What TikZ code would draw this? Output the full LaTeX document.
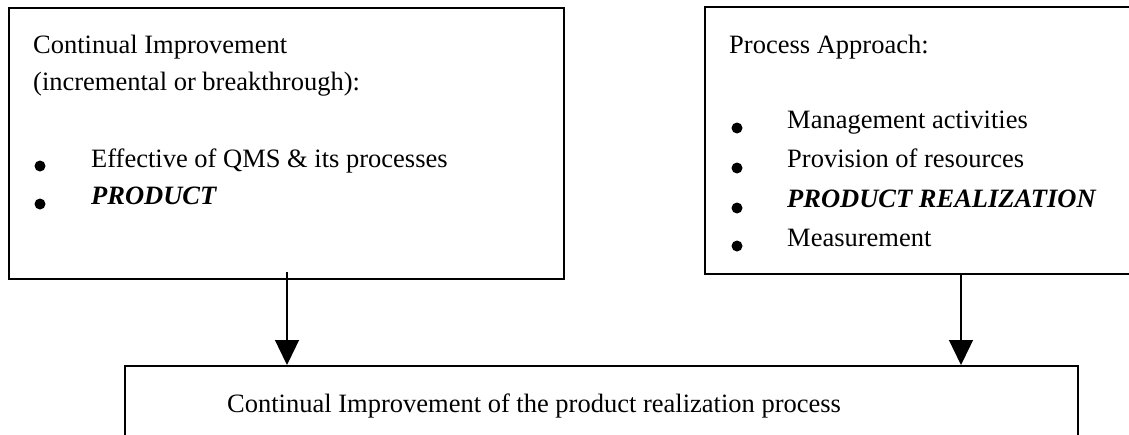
\documentclass[tikz,border=0pt]{standalone}
\usepackage{fontspec}
\setmainfont{Liberation Serif}
\usetikzlibrary{arrows.meta}
\begin{document}
\begin{tikzpicture}[x=1pt,y=-1pt,
  frame/.style={draw, line width=2pt, rectangle, inner sep=0pt, anchor=north west},
  txt/.style={anchor=base west, inner sep=0pt, font=\fontsize{26.5}{31}\selectfont},
  dot/.style={circle, fill, inner sep=0pt, minimum size=11pt},
  arr/.style={line width=1.3pt, -{Triangle[width=24pt,length=25pt]}}]
\useasboundingbox (0,0) rectangle (1129,434);
\clip (0,0) rectangle (1129,434);

% frames
\node[frame, minimum width=555pt, minimum height=271pt] (ci) at (8,7) {};
\node[frame, minimum width=460pt, minimum height=267pt] (pa) at (704,6) {};
\node[frame, minimum width=953pt, minimum height=120pt] (out) at (124,365) {};

% continual improvement
\node[txt] (ciA) at (33,53) {Continual Improvement};
\node[txt] (ciB) at (33,90) {(incremental or breakthrough):};
\node[dot] (ciD1) at (40,166) {};
\node[dot] (ciD2) at (40,204) {};
\node[txt] (ciI1) at (91,167) {Effective of QMS \& its processes};
\node[txt] (ciI2) at (91,204) {\textbf{\textit{PRODUCT}}};

% process approach
\node[txt] (paA) at (729,53) {Process Approach:};
\node[dot] (paD1) at (737,128) {};
\node[dot] (paD2) at (737,168) {};
\node[dot] (paD3) at (737,208) {};
\node[dot] (paD4) at (737,246) {};
\node[txt] (paI1) at (787,128) {Management activities};
\node[txt] (paI2) at (787,167) {Provision of resources};
\node[txt] (paI3) at (787,207) {\textbf{\textit{PRODUCT REALIZATION}}};
\node[txt] (paI4) at (787,246) {Measurement};

% result
\node[txt] (outT) at (227,412) {Continual Improvement of the product realization process};

% connectors
\coordinate (la) at (287,272);
\coordinate (ra) at (961,273);
\draw[arr] (la) -- (la |- out.north);
\draw[arr] (ra) -- (ra |- out.north);
\end{tikzpicture}
\end{document}
